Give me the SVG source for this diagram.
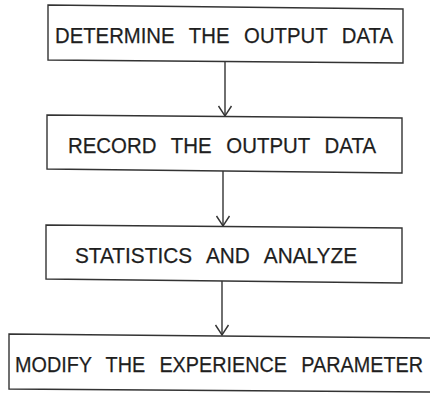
<svg xmlns="http://www.w3.org/2000/svg" width="430" height="393" viewBox="0 0 430 393">
  <defs>
    <style>
      .box { fill: #ffffff; stroke: #333333; stroke-width: 1.4; }
      .lbl { font-family: "Liberation Sans", Arial, sans-serif; font-size: 22.5px; fill: #1e1e1e; word-spacing: 10px; stroke: #1e1e1e; stroke-width: 0.25; }
      .conn { stroke: #333333; stroke-width: 1.4; fill: none; }
    </style>
    <marker id="arr" viewBox="-12 -8 14 16" refX="0" refY="0" markerWidth="14" markerHeight="16" markerUnits="userSpaceOnUse" orient="auto">
      <path d="M-10,-6.5 L0,0 L-10,6.5" fill="none" stroke="#333333" stroke-width="1.4"/>
    </marker>
  </defs>
  <rect width="430" height="393" fill="#ffffff"/>

  <g id="connectors">
    <line class="conn" x1="225" y1="62" x2="225" y2="116" marker-end="url(#arr)"/>
    <line class="conn" x1="223" y1="171" x2="223" y2="226" marker-end="url(#arr)"/>
    <line class="conn" x1="222" y1="281" x2="222" y2="335" marker-end="url(#arr)"/>
  </g>

  <g id="node1">
    <polygon class="box" points="48,5 403,9 403,63 48,60"/>
    <text class="lbl" x="55" y="43" textLength="338" lengthAdjust="spacingAndGlyphs">DETERMINE THE OUTPUT DATA</text>
  </g>
  <g id="node2">
    <polygon class="box" points="47,115 402,118 402,173 47,169"/>
    <text class="lbl" x="68" y="153" textLength="308" lengthAdjust="spacingAndGlyphs">RECORD THE OUTPUT DATA</text>
  </g>
  <g id="node3">
    <polygon class="box" points="46,225 402,228 402,283 46,279"/>
    <text class="lbl" x="75" y="263" textLength="282" lengthAdjust="spacingAndGlyphs">STATISTICS AND ANALYZE</text>
  </g>
  <g id="node4">
    <polygon class="box" points="9,334 434,338 434,392 9,389"/>
    <text class="lbl" x="15" y="372" textLength="408" lengthAdjust="spacingAndGlyphs">MODIFY THE EXPERIENCE PARAMETER</text>
  </g>
</svg>
